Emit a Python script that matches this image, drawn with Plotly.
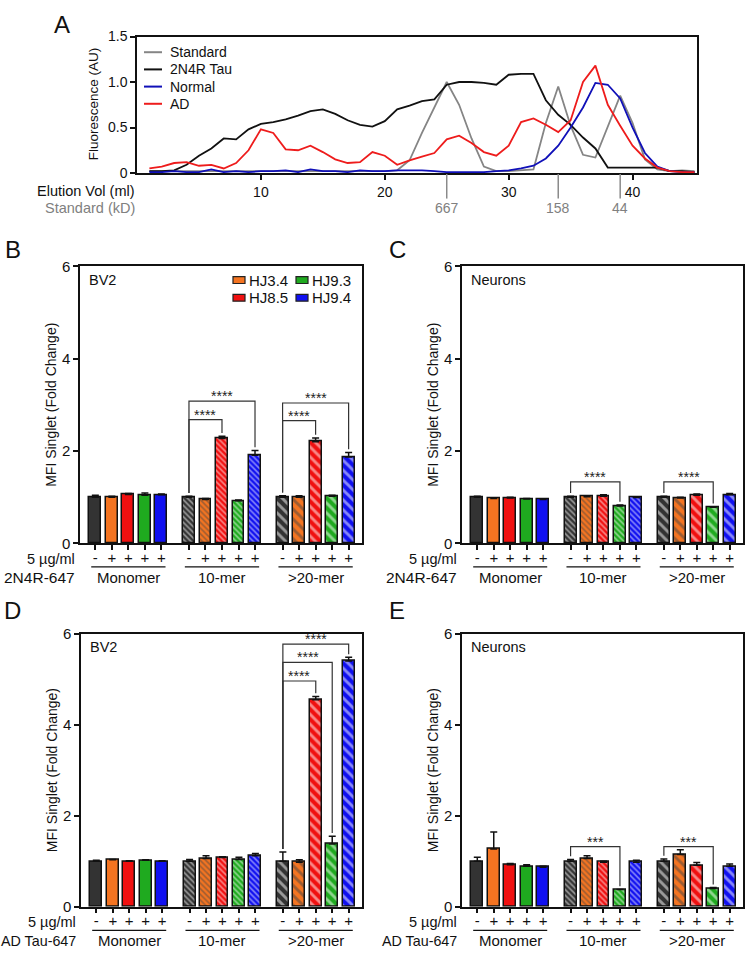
import plotly.graph_objects as go

W, H = 745, 955
FONT = "Arial, Liberation Sans, Helvetica, sans-serif"

# ---------------- Panel A data ----------------
elution_ml = list(range(1, 46))
standard = [0.02, 0.02, 0.02, 0.02, 0.02, 0.02, 0.02, 0.02, 0.02, 0.02,
            0.02, 0.02, 0.02, 0.02, 0.02, 0.02, 0.02, 0.02, 0.02, 0.02,
            0.03, 0.14, 0.44, 0.72, 1.00, 0.75, 0.38, 0.07, 0.02, 0.02,
            0.03, 0.04, 0.55, 0.95, 0.52, 0.20, 0.17, 0.52, 0.85, 0.55,
            0.15, 0.04, 0.02, 0.03, 0.02]
tau_2n4r = [0.02, 0.02, 0.03, 0.09, 0.19, 0.27, 0.38, 0.37, 0.48, 0.54,
            0.56, 0.59, 0.63, 0.68, 0.70, 0.65, 0.58, 0.53, 0.51, 0.57,
            0.70, 0.74, 0.79, 0.81, 0.97, 1.00, 1.00, 0.99, 0.97, 1.08,
            1.09, 1.09, 0.80, 0.64, 0.53, 0.39, 0.27, 0.06, 0.06, 0.06,
            0.06, 0.06, 0.02, 0.02, 0.01]
normal = [0.01, 0.01, 0.02, 0.01, 0.01, 0.04, 0.01, 0.02, 0.01, 0.02,
          0.02, 0.03, 0.01, 0.04, 0.02, 0.02, 0.01, 0.03, 0.02, 0.02,
          0.03, 0.03, 0.03, 0.02, 0.01, 0.01, 0.01, 0.01, 0.02, 0.03,
          0.05, 0.08, 0.16, 0.30, 0.50, 0.72, 0.99, 0.97, 0.82, 0.50,
          0.22, 0.07, 0.02, 0.01, 0.01]
ad = [0.05, 0.07, 0.11, 0.12, 0.08, 0.09, 0.05, 0.11, 0.25, 0.48,
      0.44, 0.26, 0.25, 0.30, 0.23, 0.15, 0.11, 0.12, 0.23, 0.19,
      0.09, 0.14, 0.18, 0.22, 0.37, 0.41, 0.33, 0.23, 0.19, 0.30,
      0.56, 0.60, 0.53, 0.45, 0.58, 1.00, 1.18, 0.75, 0.52, 0.30,
      0.16, 0.06, 0.02, 0.01, 0.01]
std_markers_ml = [25, 34, 39]
std_markers_kd = ["667", "158", "44"]

# ---------------- Bar panel data ----------------
groups = ["Monomer", "10-mer", ">20-mer"]
treat_ticks = ["-", "+", "+", "+", "+"]
bar_colors = ["#333333", "#f47421", "#f01010", "#1faa1f", "#1010f0"]
legend_names = ["HJ3.4", "HJ9.3", "HJ8.5", "HJ9.4"]

B_vals = [[1.00, 1.00, 1.06, 1.04, 1.05], [1.00, 0.95, 2.27, 0.92, 1.91], [1.00, 1.00, 2.20, 1.02, 1.87]]
B_errs = [[0.04, 0.02, 0.02, 0.05, 0.02], [0.02, 0.02, 0.05, 0.02, 0.10], [0.03, 0.03, 0.08, 0.02, 0.10]]
C_vals = [[1.00, 0.97, 0.98, 0.96, 0.95], [1.00, 1.01, 1.02, 0.81, 0.99], [1.00, 0.98, 1.04, 0.78, 1.05]]
C_errs = [[0.02, 0.00, 0.02, 0.01, 0.01], [0.02, 0.02, 0.03, 0.02, 0.01], [0.02, 0.02, 0.03, 0.01, 0.03]]
D_vals = [[1.00, 1.03, 1.00, 1.02, 1.00], [1.00, 1.06, 1.08, 1.04, 1.12], [1.00, 0.98, 4.55, 1.38, 5.40]]
D_errs = [[0.02, 0.01, 0.01, 0.01, 0.01], [0.04, 0.06, 0.02, 0.05, 0.05], [0.20, 0.05, 0.07, 0.17, 0.08]]
E_vals = [[1.00, 1.27, 0.92, 0.89, 0.87], [1.00, 1.06, 0.98, 0.38, 0.98], [1.00, 1.15, 0.91, 0.40, 0.89]]
E_errs = [[0.09, 0.37, 0.03, 0.03, 0.02], [0.04, 0.06, 0.02, 0.00, 0.04], [0.05, 0.10, 0.06, 0.02, 0.05]]

# significance: (group, bar_from, bar_to, bracket height, label)
B_sig = [(1, 0, 2, 2.68, "****"), (1, 0, 4, 3.08, "****"), (2, 0, 2, 2.66, "****"), (2, 0, 4, 3.04, "****")]
C_sig = [(1, 0, 3, 1.33, "****"), (2, 0, 3, 1.33, "****")]
D_sig = [(2, 0, 2, 4.96, "****"), (2, 0, 3, 5.37, "****"), (2, 0, 4, 5.77, "****")]
E_sig = [(1, 0, 3, 1.32, "***"), (2, 0, 3, 1.32, "***")]


def px(x):
    return x / W


def py(y):
    return 1 - y / H


fig = go.Figure()
annotations = []
shapes = []

# ---------------- Panel A ----------------
for name, ys, col in [("Standard", standard, "#858585"), ("2N4R Tau", tau_2n4r, "#111111"),
                      ("Normal", normal, "#1010b8"), ("AD", ad, "#ee1c1c")]:
    fig.add_trace(go.Scatter(x=elution_ml, y=ys, mode="lines", name=name,
                             line=dict(color=col, width=1.8), xaxis="x", yaxis="y",
                             showlegend=False, hoverinfo="skip"))

axis_common = dict(showline=True, linecolor="#111111", linewidth=1.5, mirror=True,
                   ticks="outside", ticklen=5, tickwidth=1.5, tickcolor="#111111",
                   showgrid=False, zeroline=False,
                   tickfont=dict(family=FONT, size=14, color="#111111"))

layout = dict(
    width=W, height=H, margin=dict(l=0, r=0, t=0, b=0),
    paper_bgcolor="white", plot_bgcolor="white", showlegend=False,
    font=dict(family=FONT, color="#111111"),
    bargap=0,
)
layout["xaxis"] = dict(axis_common, domain=[px(137), px(697)], anchor="y", range=[0, 45.2],
                       tickvals=[10, 20, 30, 40])
layout["yaxis"] = dict(axis_common, domain=[py(167), py(28)], anchor="x", range=[0, 1.5],
                       tickvals=[0, 0.5, 1.0, 1.5], ticktext=["0", "0.5", "1.0", "1.5"])

# legend A (manual)
for k, (name, col) in enumerate([("Standard", "#858585"), ("2N4R Tau", "#111111"),
                                  ("Normal", "#1010b8"), ("AD", "#ee1c1c")]):
    yy = 44 + k * 17.5
    shapes.append(dict(type="line", xref="paper", yref="paper", x0=px(144), x1=px(162),
                       y0=py(yy), y1=py(yy), line=dict(color=col, width=2)))
    annotations.append(dict(x=px(168), y=py(yy), xref="paper", yref="paper", text=name,
                            showarrow=False, xanchor="left", yanchor="middle",
                            font=dict(size=14, family=FONT, color="#111111")))

for ml, kd in zip(std_markers_ml, std_markers_kd):
    shapes.append(dict(type="line", xref="x", yref="paper", x0=ml, x1=ml, y0=py(168), y1=py(193),
                       line=dict(color="#8a8a8a", width=1.5)))
    annotations.append(dict(x=ml, y=py(203), xref="x", yref="paper", text=kd, showarrow=False,
                            xanchor="center", yanchor="middle",
                            font=dict(size=14, family=FONT, color="#808080")))

annotations += [
    dict(x=px(137), y=py(185), xref="paper", yref="paper", text="Elution Vol (ml)", showarrow=False,
         xanchor="right", yanchor="middle", font=dict(size=14.5, family=FONT, color="#111111")),
    dict(x=px(137), y=py(203), xref="paper", yref="paper", text="Standard (kD)", showarrow=False,
         xanchor="right", yanchor="middle", font=dict(size=14.5, family=FONT, color="#808080")),
    dict(x=px(93), y=py(97), xref="paper", yref="paper", text="Fluorescence (AU)", showarrow=False,
         textangle=-90, xanchor="center", yanchor="middle", font=dict(size=13.5, family=FONT, color="#111111")),
]

# panel letters
for letter, lx, ly in [("A", 62, 16), ("B", 13, 245), ("C", 397, 245), ("D", 13, 612), ("E", 397, 612)]:
    annotations.append(dict(x=px(lx), y=py(ly), xref="paper", yref="paper", text=letter, showarrow=False,
                            xanchor="center", yanchor="middle", font=dict(size=24, family=FONT, color="#111111")))

GROUP_STEP = 5.67
positions = [[g * GROUP_STEP + i for i in range(5)] for g in range(3)]
all_pos = [p for grp in positions for p in grp]
all_ticks = treat_ticks * 3

patterns = [dict(shape=""),
            dict(shape="\\", size=4, solidity=0.4, fgcolor="white", fillmode="overlay"),
            dict(shape="\\", size=7, solidity=0.42, fgcolor="white", fillmode="overlay")]


def add_panel(idx, vals, errs, sigs, dom_x, dom_y, cell_label, row2_label, row2_size, show_legend):
    xa, ya = f"x{idx}", f"y{idx}"
    for g in range(3):
        fig.add_trace(go.Bar(
            x=positions[g], y=vals[g], width=0.72, xaxis=xa, yaxis=ya,
            marker=dict(color=bar_colors, line=dict(color="#111111", width=1.5), pattern=patterns[g]),
            error_y=dict(type="data", array=errs[g], arrayminus=[0] * 5, symmetric=False,
                         color="#111111", thickness=1.5, width=3.5),
            showlegend=False, hoverinfo="skip"))
    for (g, i0, i1, ly, lab) in sigs:
        x0, x1 = positions[g][i0], positions[g][i1]
        yl = vals[g][i0] + errs[g][i0] + 0.07
        yr = vals[g][i1] + errs[g][i1] + 0.07
        fig.add_trace(go.Scatter(x=[x0, x0, x1, x1], y=[yl, ly, ly, yr], mode="lines",
                                 line=dict(color="#333333", width=1.2), xaxis=xa, yaxis=ya,
                                 showlegend=False, hoverinfo="skip"))
        annotations.append(dict(x=(x0 + x1) / 2, y=ly, xref=xa, yref=ya, text=lab, showarrow=False,
                                xanchor="center", yanchor="bottom", yshift=-5,
                                font=dict(size=14, family=FONT, color="#222222")))
    layout[f"xaxis{idx}"] = dict(axis_common, domain=[px(dom_x[0]), px(dom_x[1])], anchor=ya,
                                 range=[-0.93, 16.15], tickvals=all_pos, ticktext=all_ticks,
                                 ticklabelstandoff=-5,
                                 tickfont=dict(family=FONT, size=15, color="#111111"))
    layout[f"yaxis{idx}"] = dict(axis_common, domain=[py(dom_y[1]), py(dom_y[0])], anchor=xa,
                                 range=[0, 6], tickvals=[0, 2, 4, 6],
                                 tickfont=dict(family=FONT, size=15, color="#111111"))
    bottom = dom_y[1]
    for g in range(3):
        shapes.append(dict(type="line", xref=xa, yref="paper",
                           x0=positions[g][0] - 0.25, x1=positions[g][4] + 0.25,
                           y0=py(bottom + 24), y1=py(bottom + 24),
                           line=dict(color="#111111", width=1.2)))
        annotations.append(dict(x=(positions[g][0] + positions[g][4]) / 2, y=py(bottom + 34.5),
                                xref=xa, yref="paper", text=groups[g], showarrow=False,
                                xanchor="center", yanchor="middle",
                                font=dict(size=15, family=FONT, color="#111111")))
    annotations.append(dict(x=px(dom_x[0] - 3), y=py(bottom + 16), xref="paper", yref="paper",
                            text="5 µg/ml", showarrow=False, xanchor="right", yanchor="middle",
                            font=dict(size=14.5, family=FONT, color="#111111")))
    annotations.append(dict(x=px(dom_x[0] - 3), y=py(bottom + 34.5), xref="paper", yref="paper",
                            text=row2_label, showarrow=False, xanchor="right", yanchor="middle",
                            font=dict(size=row2_size, family=FONT, color="#111111")))
    annotations.append(dict(x=px(dom_x[0] - 29), y=py((dom_y[0] + dom_y[1]) / 2), xref="paper", yref="paper",
                            text="MFI Singlet (Fold Change)", showarrow=False, textangle=-90,
                            xanchor="center", yanchor="middle",
                            font=dict(size=14, family=FONT, color="#111111")))
    annotations.append(dict(x=px(dom_x[0] + 7), y=py(dom_y[0] + 14), xref="paper", yref="paper",
                            text=cell_label, showarrow=False, xanchor="left", yanchor="middle",
                            font=dict(size=14.5, family=FONT, color="#111111")))
    if show_legend:
        items = [(legend_names[0], bar_colors[1], 233, 276), (legend_names[1], bar_colors[3], 296, 276),
                 (legend_names[2], bar_colors[2], 233, 294), (legend_names[3], bar_colors[4], 296, 294)]
        for name, col, bx, by in items:
            shapes.append(dict(type="rect", xref="paper", yref="paper", x0=px(bx), x1=px(bx + 12),
                               y0=py(by + 3.5), y1=py(by - 3.5), fillcolor=col,
                               line=dict(color="#222222", width=1.2)))
            annotations.append(dict(x=px(bx + 14), y=py(by), xref="paper", yref="paper", text=name,
                                    showarrow=False, xanchor="left", yanchor="middle",
                                    font=dict(size=15, family=FONT, color="#111111")))


add_panel(2, B_vals, B_errs, B_sig, (80, 362), (262, 544), "BV2", "2N4R-647", 15.5, True)
add_panel(3, C_vals, C_errs, C_sig, (462, 743), (262, 544), "Neurons", "2N4R-647", 15.5, False)
add_panel(4, D_vals, D_errs, D_sig, (81, 362), (636, 914), "BV2", "AD Tau-647", 14.3, False)
add_panel(5, E_vals, E_errs, E_sig, (462, 743), (636, 914), "Neurons", "AD Tau-647", 14.3, False)

layout["annotations"] = annotations
layout["shapes"] = shapes
fig.update_layout(**layout)
fig.write_html("out.html", config={"displayModeBar": False},
               post_script="document.body.style.margin='0';document.body.style.padding='0';"
                           "document.body.style.overflow='hidden';")
